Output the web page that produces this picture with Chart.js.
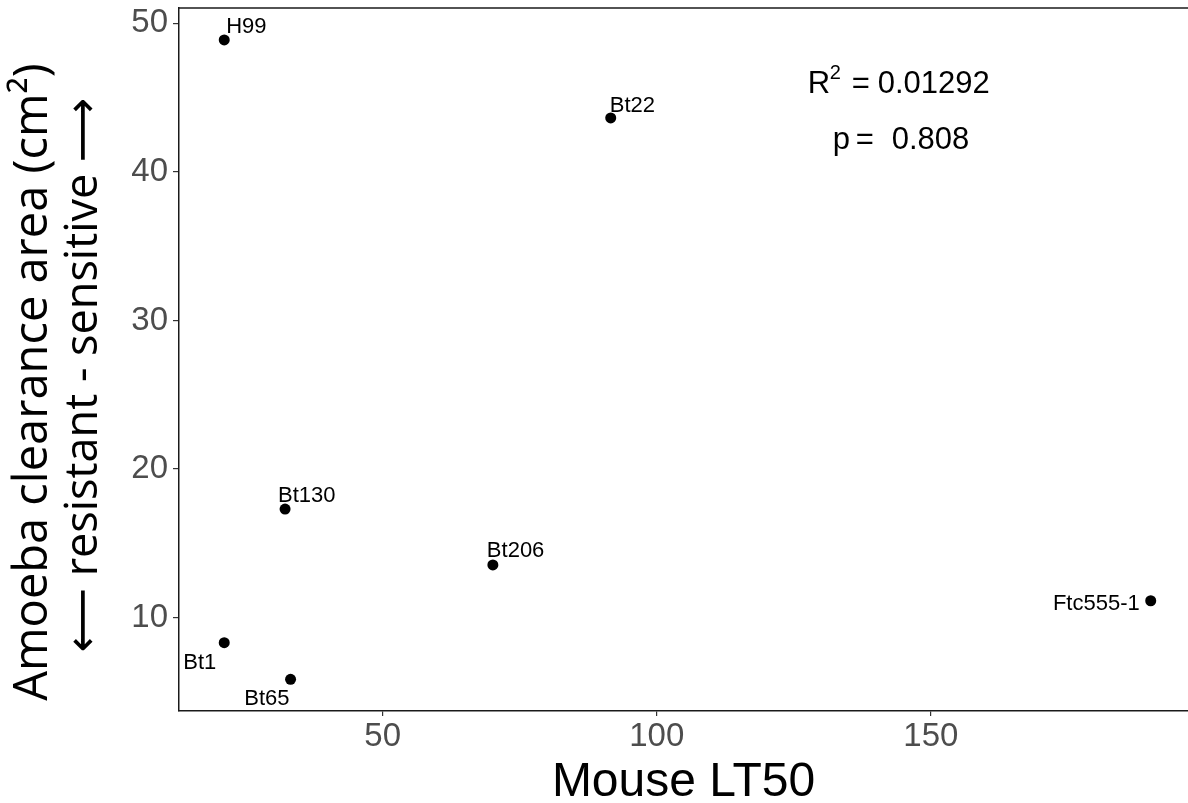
<!DOCTYPE html>
<html>
<head>
<meta charset="utf-8">
<script src="https://cdn.jsdelivr.net/npm/chart.js@4"></script>
<style>
html,body{margin:0;padding:0;background:#ffffff;}
#wrap{width:1188px;height:803px;}
</style>
</head>
<body>
<div id="wrap"><canvas id="c" width="1188" height="803"></canvas></div>
<script>
// ---- data ----
const strains = ["H99", "Bt22", "Bt130", "Bt206", "Ftc555-1", "Bt1", "Bt65"];
const mouseLT50 = [21.1, 91.6, 32.2, 70.1, 190.1, 21.1, 33.2];
const amoebaArea = [48.88, 43.63, 17.31, 13.55, 11.14, 8.32, 5.85];
const xTicks = [50, 100, 150];
const yTicks = [10, 20, 30, 40, 50];
const rSquaredText = "0.01292";
const pValueText = "0.808";
const xTitle = "Mouse LT50";
const yTitleLines = ["Amoeba clearance area (cm\u00B2)", "\u27F5 resistant - sensitive \u27F6"];

// ---- label styling (offsets in px relative to each point) ----
const labelStyle = [
  {align: "left",  dx: 2,   dy: -7},
  {align: "left",  dx: -1,  dy: -6},
  {align: "left",  dx: -7,  dy: -7},
  {align: "left",  dx: -6,  dy: -8},
  {align: "right", dx: -11, dy: 9},
  {align: "right", dx: -8,  dy: 26},
  {align: "right", dx: -1,  dy: 26}
];

const points = mouseLT50.map((x, i) => ({x: x, y: amoebaArea[i]}));

const FONT = "'Liberation Sans', Arial, sans-serif";

const annotPlugin = {
  id: "annot",
  afterDraw(chart) {
    const ctx = chart.ctx;
    const xs = chart.scales.x, ys = chart.scales.y;
    const ca = chart.chartArea;
    ctx.save();
    // top frame line
    ctx.strokeStyle = "#1a1a1a";
    ctx.lineWidth = 1.5;
    ctx.beginPath();
    ctx.moveTo(ca.left, ca.top);
    ctx.lineTo(ca.right, ca.top);
    ctx.stroke();

    // point labels
    ctx.fillStyle = "#000000";
    ctx.font = "22px " + FONT;
    ctx.textBaseline = "alphabetic";
    strains.forEach((s, i) => {
      const px = xs.getPixelForValue(mouseLT50[i]);
      const py = ys.getPixelForValue(amoebaArea[i]);
      const st = labelStyle[i];
      ctx.textAlign = st.align;
      ctx.fillText(s, px + st.dx, py + st.dy);
    });

    // stats text
    const sx = xs.getPixelForValue(144.3);
    const y1 = ys.getPixelForValue(45.31);
    const y2 = ys.getPixelForValue(41.55);
    const big = "31px " + FONT, small = "20px " + FONT;
    ctx.textAlign = "left";
    ctx.font = big;
    ctx.fillText("R", sx - 92, y1);
    ctx.fillText("=", sx - 48, y1);
    ctx.fillText(rSquaredText, sx - 22, y1);
    ctx.font = small;
    ctx.fillText("2", sx - 70, y1 - 14);
    ctx.font = big;
    ctx.fillText("p", sx - 67, y2);
    ctx.fillText("=", sx - 44, y2);
    ctx.fillText(pValueText, sx - 8, y2);

    // y-axis title (two lines, rotated)
    ctx.textAlign = "center";
    ctx.textBaseline = "alphabetic";
    ctx.save();
    ctx.font = "47px 'Open Sans', 'DejaVu Sans', sans-serif";
    ctx.translate(0, 382);
    ctx.rotate(-Math.PI / 2);
    ctx.fillText(yTitleLines[0], 0, 47);
    ctx.restore();
    ctx.save();
    ctx.font = "45px 'Open Sans', 'DejaVu Sans', sans-serif";
    ctx.translate(0, 375);
    ctx.rotate(-Math.PI / 2);
    ctx.fillText(yTitleLines[1], 0, 97);
    ctx.restore();
    ctx.restore();
  }
};

new Chart(document.getElementById("c"), {
  type: "scatter",
  data: {
    datasets: [{
      data: points,
      pointRadius: 5.5,
      pointHoverRadius: 5.5,
      pointBackgroundColor: "#000000",
      pointBorderWidth: 0,
      showLine: false
    }]
  },
  options: {
    responsive: false,
    animation: false,
    devicePixelRatio: 1,
    layout: {autoPadding: false, padding: {top: 8, right: 0, bottom: 0, left: 0}},
    plugins: {legend: {display: false}, tooltip: {enabled: false}},
    scales: {
      x: {
        type: "linear",
        min: 12.85,
        max: 196.9,
        afterFit(scale) { scale.height = 92; scale.paddingLeft = 0; scale.paddingRight = 0; },
        afterBuildTicks(scale) { scale.ticks = xTicks.map(v => ({value: v})); },
        grid: {display: true, drawOnChartArea: false, drawTicks: true, tickLength: 5, color: "#333333", lineWidth: 1.2},
        border: {display: true, color: "#1a1a1a", width: 1.5},
        ticks: {color: "#4d4d4d", padding: 1, font: {family: FONT, size: 33}, maxRotation: 0},
        title: {display: true, text: xTitle, color: "#000000", font: {family: FONT, size: 48, lineHeight: 0.85}, padding: {top: 0, bottom: 0}}
      },
      y: {
        type: "linear",
        min: 3.72,
        max: 51.03,
        afterFit(scale) { scale.width = 179; scale.paddingTop = 0; scale.paddingBottom = 0; },
        afterBuildTicks(scale) { scale.ticks = yTicks.map(v => ({value: v})); },
        grid: {display: true, drawOnChartArea: false, drawTicks: true, tickLength: 6, color: "#333333", lineWidth: 1.2},
        border: {display: true, color: "#1a1a1a", width: 1.5},
        ticks: {color: "#4d4d4d", padding: 5, font: {family: FONT, size: 33}},
        title: {display: false}
      }
    }
  },
  plugins: [annotPlugin]
});
</script>
</body>
</html>
